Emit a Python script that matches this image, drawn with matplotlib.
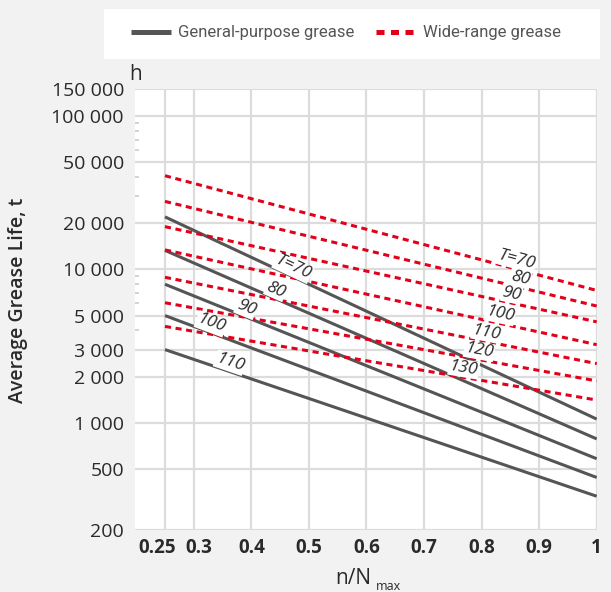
import numpy as np
import matplotlib
matplotlib.use("Agg")
import matplotlib.pyplot as plt
from matplotlib.lines import Line2D
from matplotlib.patches import Rectangle
from matplotlib.ticker import FixedLocator, FuncFormatter, NullFormatter
from matplotlib.transforms import ScaledTranslation

# ---------------- data ----------------
x_ends = [0.25, 1.0]
gp_labels = ['T=70', '80', '90', '100', '110']
gp_start = [22000, 13300, 8000, 5000, 3000]
gp_end = [1057, 785, 583, 440, 332]
gp_label_x = [0.472, 0.443, 0.391, 0.330, 0.363]

wr_labels = ['T=70', '80', '90', '100', '110', '120', '130']
wr_start = [40800, 27750, 19000, 13400, 8880, 6060, 4250]
wr_end = [7290, 5770, 4550, 3230, 2430, 1875, 1407]
wr_label_x = [0.861, 0.867, 0.852, 0.832, 0.809, 0.796, 0.769]

x_ticks = [0.25, 0.3, 0.4, 0.5, 0.6, 0.7, 0.8, 0.9, 1.0]
x_tick_labels = ['0.25', '0.3', '0.4', '0.5', '0.6', '0.7', '0.8', '0.9', '1']
y_ticks = [200, 500, 1000, 2000, 3000, 5000, 10000, 20000, 50000, 100000, 150000]
y_minor = [4000, 6000, 7000, 8000, 9000, 30000, 40000, 60000, 70000, 80000, 90000]

legend_labels = ['General-purpose grease', 'Wide-range grease']

# ---------------- style ----------------
GRAY = '#555555'
RED = '#e2001a'
GRID = '#dcdcdc'
TXT = '#2a2a2a'
BASE_FONT = ['Open Sans', 'DejaVu Sans']
LEG_FONT = ['Roboto', 'Open Sans', 'DejaVu Sans']

plt.rcParams['font.family'] = BASE_FONT

W, H = 611, 592
fig = plt.figure(figsize=(W / 100, H / 100), dpi=100, facecolor='#f2f2f2')

L, R, T, B = 135, 596.7, 89, 530
ax = fig.add_axes([L / W, 1 - B / H, (R - L) / W, (B - T) / H])
ax.set_facecolor('white')
ax.set_yscale('log')
ax.set_xlim(0.25 - 30 / 575.6, 1.0)
ax.set_ylim(200, 150000)

for s in ax.spines.values():
    s.set_visible(False)

ax.xaxis.set_major_locator(FixedLocator(x_ticks))
ax.set_xticklabels(x_tick_labels)
ax.yaxis.set_major_locator(FixedLocator(y_ticks))
ax.yaxis.set_major_formatter(FuncFormatter(lambda v, p: f"{int(round(v)):,}".replace(',', ' ')))
ax.yaxis.set_minor_locator(FixedLocator(y_minor))
ax.yaxis.set_minor_formatter(NullFormatter())

ax.grid(True, which='major', color=GRID, linewidth=1.6, zorder=0)
ax.set_axisbelow(True)
ax.tick_params(axis='both', which='major', length=0, colors=TXT)
ax.tick_params(axis='y', which='major', labelsize=14, pad=8)
ax.tick_params(axis='x', which='major', labelsize=13.5, pad=6)
ax.tick_params(axis='y', which='minor', direction='in', length=3, width=1.2, color='#cccccc')
xlabs = ax.get_xticklabels()
for lab in xlabs:
    lab.set_fontweight('bold')
# nudge the two crowded labels apart
xlabs[0].set_transform(xlabs[0].get_transform() + ScaledTranslation(-8 / 100, 0, fig.dpi_scale_trans))
xlabs[1].set_transform(xlabs[1].get_transform() + ScaledTranslation(5 / 100, 0, fig.dpi_scale_trans))

# lines
for s0, s1 in zip(gp_start, gp_end):
    ax.plot(x_ends, [s0, s1], color=GRAY, lw=2.2, solid_capstyle='butt', zorder=2)
for s0, s1 in zip(wr_start, wr_end):
    ax.plot(x_ends, [s0, s1], color=RED, lw=2.2, dashes=(2.0, 1.5), zorder=3)


def line_label(x, s0, s1, text):
    f = (x - x_ends[0]) / (x_ends[1] - x_ends[0])
    y = 10 ** (np.log10(s0) + f * (np.log10(s1) - np.log10(s0)))
    p0 = ax.transData.transform((x_ends[0], s0))
    p1 = ax.transData.transform((x_ends[1], s1))
    ang = np.degrees(np.arctan2(p1[1] - p0[1], p1[0] - p0[0]))
    ax.annotate(text, (x, y), xytext=(0, 6.5), textcoords='offset points',
                ha='center', va='center', rotation=ang, rotation_mode='anchor',
                fontsize=12.5, style='italic', color=TXT, zorder=5,
                bbox=dict(boxstyle='square,pad=0.05', fc='white', ec='none'))


for x, s0, s1, t in zip(gp_label_x, gp_start, gp_end, gp_labels):
    line_label(x, s0, s1, t)
for x, s0, s1, t in zip(wr_label_x, wr_start, wr_end, wr_labels):
    line_label(x, s0, s1, t)

# axis titles
fig.text(18 / W, 1 - 300 / H, 'Average Grease Life, t', rotation=90, ha='center', va='center',
         fontsize=14, fontweight='semibold', color=TXT)
fig.text(136 / W, 1 - 74 / H, 'h', ha='center', va='center', fontsize=15, color=TXT)
fig.text(371 / W, 1 - 579 / H, 'n/N', ha='right', va='center', fontsize=15, color=TXT)
fig.text(376 / W, 1 - 586 / H, 'max', ha='left', va='center', fontsize=9, color=TXT)

# legend box
fig.patches.append(Rectangle((104 / W, 1 - 59 / H), (600 - 104) / W, 50 / H,
                             transform=fig.transFigure, facecolor='white', edgecolor='none', zorder=0))
handles = [Line2D([], [], color=GRAY, lw=3.6, solid_capstyle='butt'),
           Line2D([], [], color=RED, lw=3.6, dashes=(1.6, 1.3))]
leg = fig.legend(handles, legend_labels, loc='center', bbox_to_anchor=(346 / W, 1 - 33 / H),
                 ncol=2, frameon=False, handlelength=2.4, handletextpad=0.4, columnspacing=1.3,
                 prop={'family': LEG_FONT, 'size': 12})
for t in leg.get_texts():
    t.set_color('#555555')

fig.savefig('out.png', dpi=100, facecolor=fig.get_facecolor())
